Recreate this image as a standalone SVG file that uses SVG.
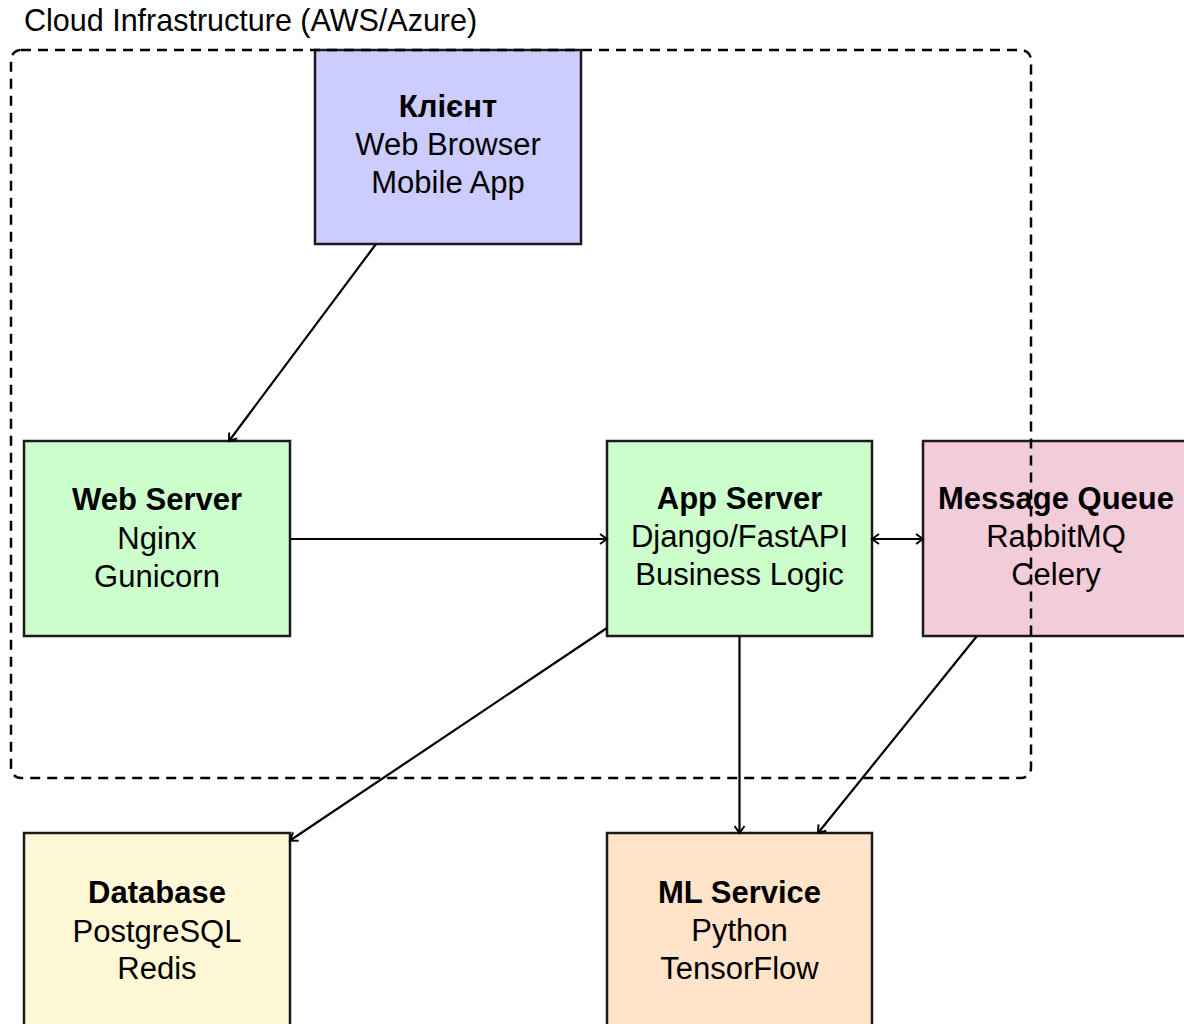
<svg xmlns="http://www.w3.org/2000/svg" width="1184" height="1024" viewBox="0 0 1184 1024">
<style>
  text { font-family: "Liberation Sans", Arial, sans-serif; font-size: 31px; fill: #000; }
  .t { font-weight: bold; text-anchor: middle; }
  .s { text-anchor: middle; }
  .box { stroke: #1a1a1a; stroke-width: 2.5; }
  .edge { stroke: #000; stroke-width: 2.2; fill: none; }
  .cloud { fill: none; stroke: #000; stroke-width: 2.5; stroke-dasharray: 10 7; }
</style>
<defs>
  <marker id="arr" viewBox="-10 -6 12 12" refX="0" refY="0" markerWidth="12" markerHeight="12" markerUnits="userSpaceOnUse" orient="auto-start-reverse">
    <path d="M-7,-5 L0,0 L-7,5" fill="none" stroke="#000" stroke-width="2"/>
  </marker>
</defs>
<rect width="1184" height="1024" fill="#fff"/>
<text x="24" y="31" style="font-size:30.5px">Cloud Infrastructure (AWS/Azure)</text>

<g id="client">
  <rect class="box" x="315" y="50" width="266" height="194" fill="#ccccff"/>
  <text class="t" x="448" y="117">Клієнт</text>
  <text class="s" x="448" y="155">Web Browser</text>
  <text class="s" x="448" y="193">Mobile App</text>
</g>
<g id="webserver">
  <rect class="box" x="24" y="441" width="266" height="195" fill="#ccffcc"/>
  <text class="t" x="157" y="510">Web Server</text>
  <text class="s" x="157" y="549">Nginx</text>
  <text class="s" x="157" y="587">Gunicorn</text>
</g>
<g id="appserver">
  <rect class="box" x="607" y="441" width="265" height="195" fill="#ccffcc"/>
  <text class="t" x="739.5" y="509">App Server</text>
  <text class="s" x="739.5" y="547">Django/FastAPI</text>
  <text class="s" x="739.5" y="585">Business Logic</text>
</g>
<g id="mq">
  <rect class="box" x="923" y="441" width="266" height="195" fill="#f2ccd9"/>
  <text class="t" x="1056" y="509">Message Queue</text>
  <text class="s" x="1056" y="547">RabbitMQ</text>
  <text class="s" x="1056" y="585">Celery</text>
</g>
<g id="database">
  <rect class="box" x="24" y="833" width="266" height="196" fill="#fff8d6"/>
  <text class="t" x="157" y="903">Database</text>
  <text class="s" x="157" y="942">PostgreSQL</text>
  <text class="s" x="157" y="979">Redis</text>
</g>
<g id="mlservice">
  <rect class="box" x="607" y="833" width="265" height="196" fill="#ffe4c9"/>
  <text class="t" x="739.5" y="903">ML Service</text>
  <text class="s" x="739.5" y="941">Python</text>
  <text class="s" x="739.5" y="979">TensorFlow</text>
</g>

<g id="connectors">
  <line class="edge" x1="376" y1="244" x2="229" y2="441" marker-end="url(#arr)"/>
  <line class="edge" x1="290" y1="539" x2="607" y2="539" marker-end="url(#arr)"/>
  <line class="edge" x1="872" y1="539" x2="923" y2="539" marker-start="url(#arr)" marker-end="url(#arr)"/>
  <line class="edge" x1="607" y1="628" x2="290" y2="840.5" marker-end="url(#arr)"/>
  <line class="edge" x1="739.5" y1="636" x2="739.5" y2="833" marker-end="url(#arr)"/>
  <line class="edge" x1="977" y1="636" x2="818" y2="833" marker-end="url(#arr)"/>
</g>

<rect class="cloud" x="11" y="50" width="1020" height="728" rx="10" ry="10"/>
</svg>
